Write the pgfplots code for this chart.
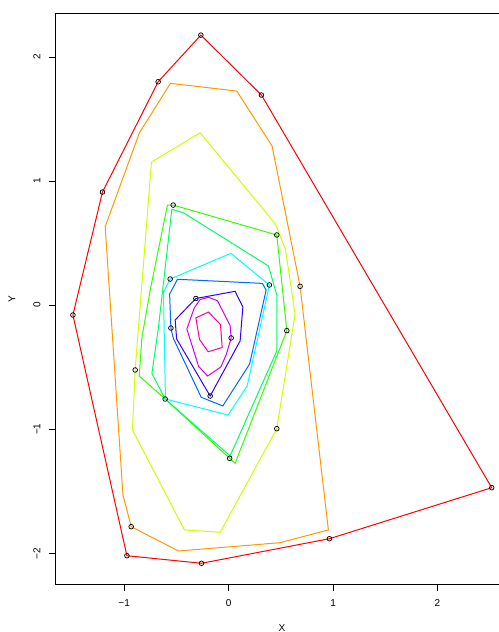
\documentclass[border=0pt]{standalone}
\usepackage{fontspec}
\setmainfont{Liberation Sans}
\usepackage{pgfplots}
\pgfplotsset{compat=1.18}

% rainbow(10) palette for the ten depth contours
\definecolor{c1}{HTML}{FF0000}
\definecolor{c2}{HTML}{FF9900}
\definecolor{c3}{HTML}{CCFF00}
\definecolor{c4}{HTML}{33FF00}
\definecolor{c5}{HTML}{00FF66}
\definecolor{c6}{HTML}{00FFFF}
\definecolor{c7}{HTML}{0066FF}
\definecolor{c8}{HTML}{3300FF}
\definecolor{c9}{HTML}{CC00FF}
\definecolor{c10}{HTML}{FF0099}

\begin{document}
\begin{tikzpicture}
\useasboundingbox (0,0) rectangle (374.25pt,474pt);
\clip (0,0) rectangle (374.25pt,474pt);
\begin{axis}[
  at={(42pt,36pt)}, anchor=south west,
  scale only axis,
  width=338.78pt, height=427.5pt,
  xmin=-1.653, xmax=2.672,
  ymin=-2.247, ymax=2.347,
  axis line style={line width=0.75pt, black},
  tick style={line width=0.75pt, black},
  tick align=outside,
  major tick length=4.9pt,
  xtick={-1,0,1,2},
  xticklabels={−1,0,1,2},
  ytick={-2,-1,0,1,2},
  yticklabels={−2,−1,0,1,2},
  xtick pos=bottom, ytick pos=left,
  font=\fontsize{7.5pt}{9pt}\selectfont,
  xticklabel style={anchor=north, inner sep=0pt},
  yticklabel style={rotate=90, anchor=south, inner sep=0pt},
  xticklabel shift=6.7pt,
  yticklabel shift=6.6pt,
  xlabel={X}, ylabel={Y},
  xlabel style={at={(axis description cs:0.5,-0.0772)}, anchor=center, inner sep=0pt},
  ylabel style={at={(axis description cs:-0.0974,0.5)}, anchor=center, rotate=0, inner sep=0pt},
  every axis plot/.append style={line width=0.75pt, mark=none},
  clip=false,
]
% outermost hull
\addplot[c1] coordinates {(-1.491,-0.079) (-1.208,0.912) (-0.675,1.801) (-0.266,2.177) (0.314,1.694)
  (2.519,-1.471) (0.965,-1.882) (-0.260,-2.080) (-0.974,-2.019)} -- cycle;
\addplot[c2] coordinates {(-0.557,1.788) (0.078,1.726) (0.416,1.283) (0.684,0.152) (0.955,-1.811)
  (0.493,-1.914) (-0.480,-1.981) (-0.933,-1.785) (-1.012,-1.529) (-1.182,0.633) (-0.854,1.390)} -- cycle;
\addplot[c3] coordinates {(-0.273,1.390) (0.448,0.654) (0.544,0.450) (0.636,-0.071) (0.461,-0.995)
  (-0.081,-1.830) (-0.423,-1.811) (-0.921,-1.006) (-0.895,-0.522) (-0.739,1.154)} -- cycle;
\addplot[c4] coordinates {(-0.586,0.807) (-0.531,0.807) (0.461,0.566) (0.557,-0.205) (0.062,-1.274)
  (-0.608,-0.756) (-0.856,-0.571) (-0.831,-0.264) (-0.751,0.122)} -- cycle;
\addplot[c5] coordinates {(-0.544,0.773) (-0.433,0.745) (0.381,0.316) (0.461,0.082) (0.461,-0.369)
  (0.014,-1.215) (-0.608,-0.756) (-0.735,-0.549) (-0.675,-0.200)} -- cycle;
\addplot[c6] coordinates {(-0.560,0.211) (0.021,0.418) (0.390,0.163) (0.359,0.042) (0.177,-0.651)
  (-0.005,-0.885) (-0.605,-0.756) (-0.624,0.106)} -- cycle;
\addplot[c7] coordinates {(-0.490,0.209) (0.323,0.176) (0.359,0.122) (0.201,-0.474) (-0.056,-0.812)
  (-0.263,-0.742) (-0.531,-0.264) (-0.553,-0.184) (-0.565,0.090)} -- cycle;
\addplot[c8] coordinates {(-0.314,0.054) (0.062,0.112) (0.136,-0.015) (0.110,-0.288) (-0.177,-0.732)
  (-0.498,-0.272) (-0.512,-0.119)} -- cycle;
\addplot[c9] coordinates {(-0.273,0.046) (-0.193,0.064) (-0.107,0.036) (0.014,-0.164) (0.024,-0.264)
  (-0.024,-0.401) (-0.075,-0.498) (-0.201,-0.571) (-0.287,-0.494) (-0.400,-0.192) (-0.330,-0.023)} -- cycle;
\addplot[c10] coordinates {(-0.193,-0.055) (-0.078,-0.156) (-0.062,-0.341) (-0.196,-0.375)
  (-0.279,-0.276) (-0.314,-0.102)} -- cycle;
% observations
\addplot[only marks, mark=o, mark size=1.75pt, black, line width=0.55pt] coordinates {
  (-1.491,-0.079) (-1.208,0.912) (-0.675,1.801) (-0.266,2.177) (0.314,1.694)
  (2.519,-1.471) (0.965,-1.882) (-0.260,-2.080) (-0.974,-2.019) (-0.933,-1.785)
  (0.684,0.152) (-0.531,0.807) (0.461,0.566) (-0.895,-0.522) (0.557,-0.205)
  (0.461,-0.995) (-0.608,-0.756) (0.010,-1.234) (-0.560,0.211) (0.390,0.163)
  (-0.314,0.054) (-0.553,-0.184) (0.024,-0.264) (-0.177,-0.732)};
\end{axis}
\end{tikzpicture}
\end{document}
